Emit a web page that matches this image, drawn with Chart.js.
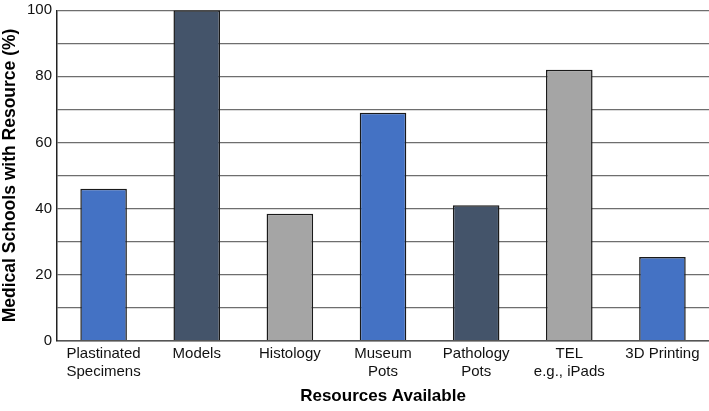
<!DOCTYPE html>
<html lang="en">
<head>
  <meta charset="UTF-8">
  <title>Resources Available</title>
  <script src="https://cdn.jsdelivr.net/npm/chart.js"></script>
  <style>
    html, body { margin: 0; padding: 0; background: #fff; }
    #wrap { width: 709px; height: 411px; }
  </style>
</head>
<body>
  <div id="wrap"><canvas id="chart"></canvas></div>
  <script>
    const categories = [
      ["Plastinated", "Specimens"],
      "Models",
      "Histology",
      ["Museum", "Pots"],
      ["Pathology", "Pots"],
      ["TEL", "e.g., iPads"],
      "3D Printing"
    ];
    const percentages = [46, 100, 38.4, 69, 41, 82, 25.3];
    const barColors = ["#4472C4", "#44546A", "#A5A5A5", "#4472C4", "#44546A", "#A5A5A5", "#4472C4"];

    const font = "'Liberation Sans', Arial, sans-serif";

    new Chart(document.getElementById("chart"), {
      type: "bar",
      data: {
        labels: categories,
        datasets: [{
          data: percentages,
          backgroundColor: barColors,
          borderColor: "#1a1a1a",
          borderWidth: 1.5,
          categoryPercentage: 1,
          barPercentage: 0.5
        }]
      },
      options: {
        responsive: true,
        maintainAspectRatio: false,
        animation: false,
        layout: { padding: { top: 0, right: -5, left: 0, bottom: 4 } },
        plugins: { legend: { display: false }, tooltip: { enabled: false } },
        scales: {
          x: {
            grid: { display: false, drawTicks: false },
            border: { color: "#555", width: 1.5 },
            ticks: { color: "#111", font: { family: font, size: 15 }, maxRotation: 0, autoSkip: false, padding: 4 },
            title: {
              display: true,
              text: "Resources Available",
              color: "#000",
              font: { family: font, size: 17, weight: "bold" },
              padding: { top: 2, bottom: 0 }
            }
          },
          y: {
            min: 0,
            max: 100,
            ticks: {
              stepSize: 10,
              color: "#111",
              // small lineHeight so the top label does not push the plot down
              font: { family: font, size: 15, lineHeight: 0.7 },
              padding: 5,
              callback: v => (v % 20 === 0 ? v : "")
            },
            grid: { color: "#6e6e6e", lineWidth: 1.2, drawTicks: false },
            border: { color: "#222", width: 1.5 },
            title: {
              display: true,
              text: "Medical Schools with Resource (%)",
              color: "#000",
              font: { family: font, size: 17.5, weight: "bold" },
              padding: { top: 0, bottom: 1 }
            }
          }
        }
      }
    });
  </script>
</body>
</html>
